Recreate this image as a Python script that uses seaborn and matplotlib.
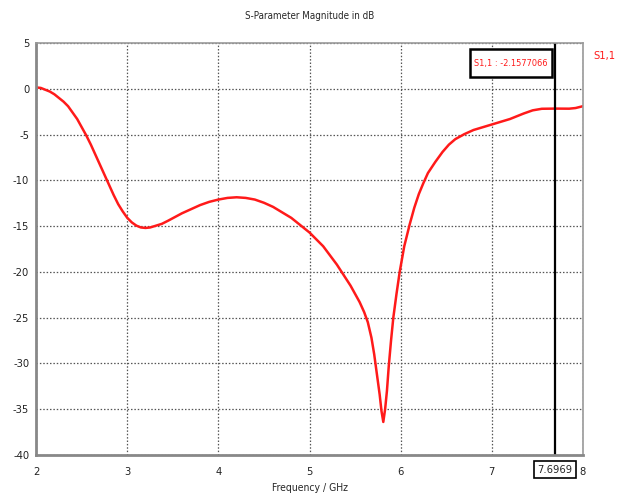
import numpy as np
import pandas as pd
import matplotlib
matplotlib.use("Agg")
import matplotlib.pyplot as plt
from matplotlib.patches import Rectangle
import seaborn as sns

# S1,1 magnitude
freq_ghz = [2.0, 2.05, 2.1, 2.15, 2.2, 2.25, 2.3, 2.35, 2.4, 2.45, 2.5, 2.55, 2.6,
            2.65, 2.7, 2.75, 2.8, 2.85, 2.9, 2.95, 3.0, 3.05, 3.1, 3.15, 3.2,
            3.25, 3.3, 3.38, 3.45, 3.6, 3.8, 3.9, 4.0, 4.1, 4.2, 4.3, 4.4, 4.5,
            4.6, 4.8, 5.0, 5.15, 5.3, 5.45, 5.55, 5.6, 5.64, 5.68, 5.71, 5.74,
            5.77, 5.79, 5.81, 5.83, 5.85, 5.87, 5.895, 5.92, 5.955, 5.99, 6.04,
            6.1, 6.15, 6.2, 6.25, 6.3, 6.38, 6.46, 6.53, 6.6, 6.7, 6.8, 6.9, 7.0,
            7.1, 7.2, 7.35, 7.45, 7.55, 7.7, 7.85, 7.92, 8.0]
s11_db = [0.15, 0.1, -0.1, -0.3, -0.6, -1.0, -1.4, -1.9, -2.6, -3.3, -4.2, -5.1,
          -6.1, -7.2, -8.3, -9.4, -10.5, -11.6, -12.6, -13.4, -14.1, -14.6,
          -14.95, -15.15, -15.2, -15.15, -15.0, -14.75, -14.4, -13.6, -12.7,
          -12.35, -12.1, -11.92, -11.85, -11.92, -12.1, -12.45, -12.9, -14.1,
          -15.7, -17.2, -19.2, -21.5, -23.3, -24.4, -25.5, -27.2, -29.0, -31.2,
          -33.4, -35.2, -36.4, -35.0, -33.0, -30.3, -27.5, -25.0, -22.4, -20.0,
          -17.2, -14.8, -13.0, -11.5, -10.3, -9.2, -8.0, -6.9, -6.1, -5.5,
          -4.95, -4.5, -4.2, -3.9, -3.6, -3.3, -2.7, -2.35, -2.18, -2.16, -2.17,
          -2.1, -1.9]
x_ticks = [2, 3, 4, 5, 6, 7, 8]
y_ticks = [5, 0, -5, -10, -15, -20, -25, -30, -35, -40]
marker_x = 7.6969
marker_val = "-2.1577066"

df = pd.DataFrame({"freq": freq_ghz, "s11": s11_db})

sns.set_style("white")
plt.rcParams["font.family"] = ["DejaVu Sans"]
plt.rcParams["font.stretch"] = "condensed"
plt.rcParams["axes.unicode_minus"] = False

fig = plt.figure(figsize=(6.24, 4.95), dpi=100)
ax = fig.add_axes([0.058, 0.081, 0.876, 0.832])

sns.lineplot(data=df, x="freq", y="s11", color="#ff1a1a", linewidth=1.8, ax=ax)

ax.set_xlim(2, 8)
ax.set_ylim(-40, 5)
ax.set_xticks(x_ticks)
ax.set_yticks(y_ticks)
ax.grid(True, linestyle=(0, (1.2, 1.5)), color="#555555", linewidth=0.9)
ax.tick_params(axis="both", direction="out", length=3, width=1, color="#555555",
               labelsize=8, pad=2, labelcolor="#222222")
ax.xaxis.set_tick_params(pad=6)

for side in ["left", "bottom"]:
    ax.spines[side].set_color("#888888")
    ax.spines[side].set_linewidth(2)
for side in ["top", "right"]:
    ax.spines[side].set_color("#999999")
    ax.spines[side].set_linewidth(1.2)

ax.set_xlabel("Frequency / GHz", fontsize=7.5, labelpad=4)
ax.set_ylabel("")
ax.set_title("S-Parameter Magnitude in dB", fontsize=7, pad=17)

# marker line and readouts
ax.axvline(marker_x, color="black", linewidth=1.6)
ax.add_patch(Rectangle((6.76, 1.3), 0.9, 3.05, fc="white", ec="black", lw=1.8,
                       zorder=4))
ax.text(7.21, 2.8, f"S1,1 : {marker_val}", color="#ff1a1a", fontsize=6.6,
        ha="center", va="center", zorder=5)
ax.text(marker_x, -41.6, f"{marker_x:.4f}", fontsize=8, ha="center", va="center",
        bbox=dict(boxstyle="square,pad=0.3", fc="white", ec="black", lw=1.2))

# legend entry to the right of the plot
ax.text(8.12, 3.6, "S1,1", color="#ff1a1a", fontsize=8, ha="left", va="center",
        clip_on=False)

fig.savefig("out.png", dpi=100)
